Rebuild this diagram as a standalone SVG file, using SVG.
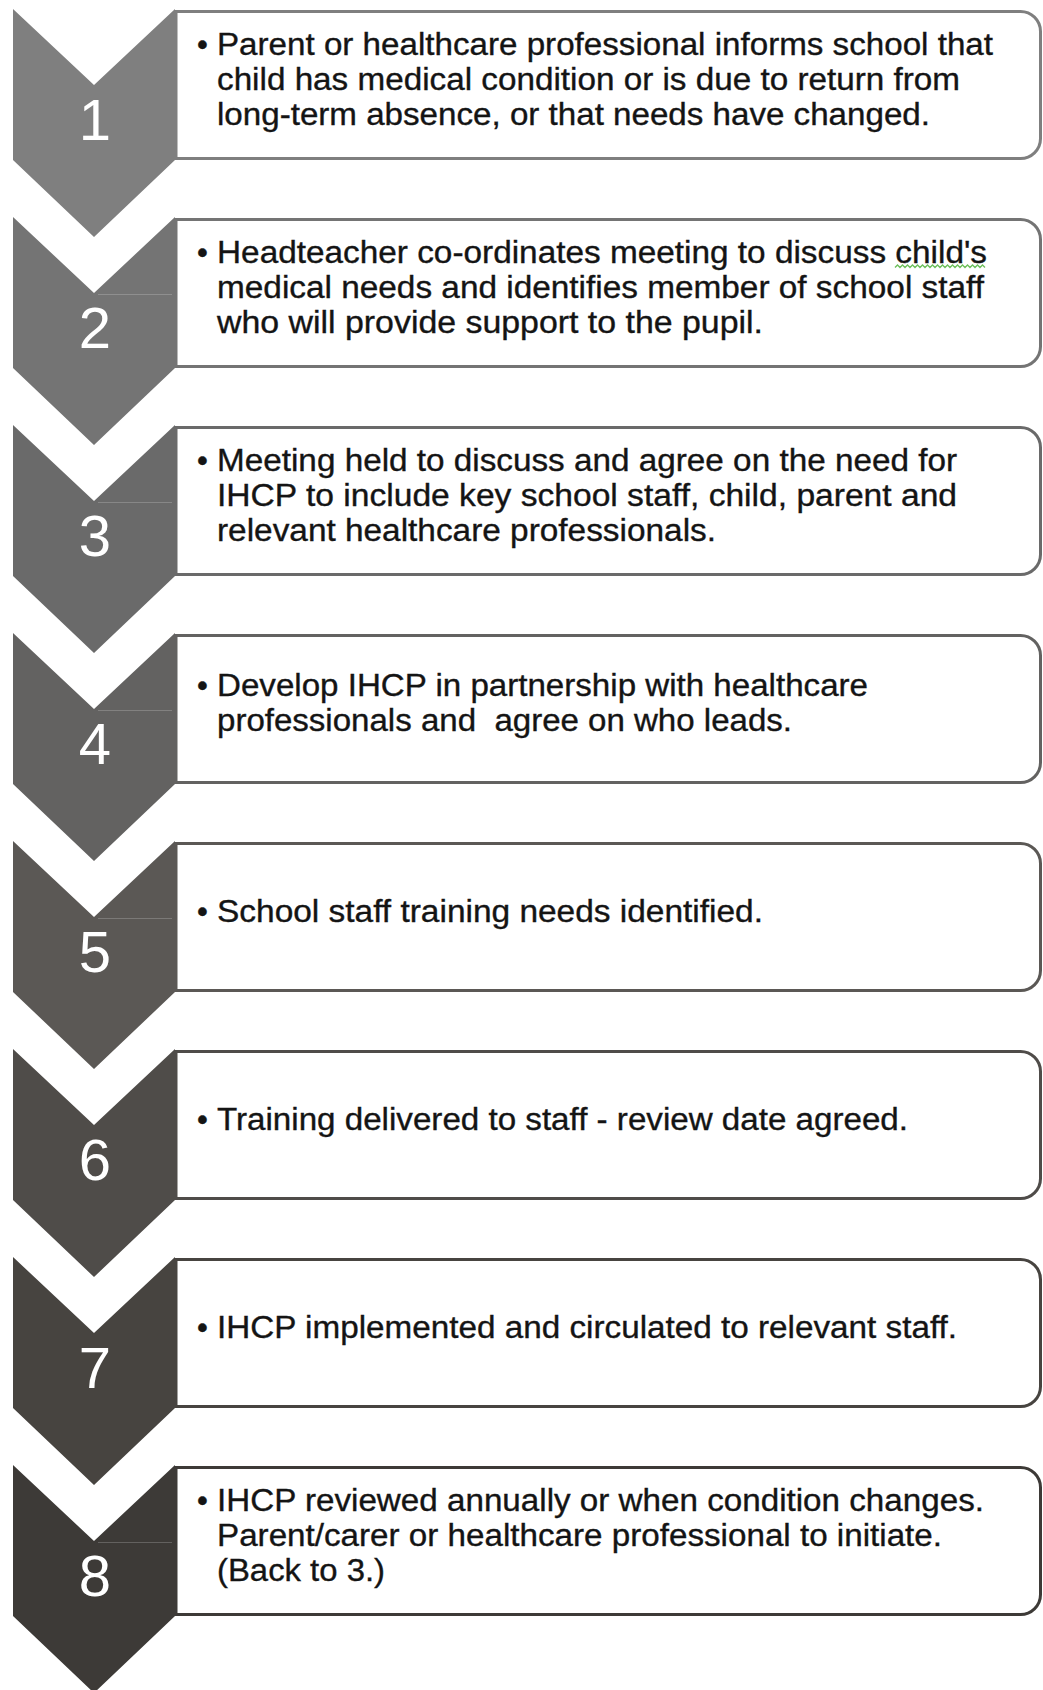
<svg xmlns="http://www.w3.org/2000/svg" xmlns:xlink="http://www.w3.org/1999/xlink" width="1043" height="1690" viewBox="0 0 1043 1690">
<style>
.txt{font-family:"Liberation Sans",Arial,Helvetica,sans-serif;font-size:31px;fill:#141414;stroke:#141414;stroke-width:0.35}
.num{font-family:"Liberation Sans",Arial,Helvetica,sans-serif;font-size:58px;fill:#ffffff;text-anchor:middle}
.box{fill:#ffffff;stroke-width:3}
.notch{stroke:#ffffff;stroke-opacity:0.2;stroke-width:1.2}
</style>
<defs>
<path id="chev" d="M13,0 L94,76 L175,0 L175,151 L94,228 L13,151 Z"/>
<path id="card" d="M176,2.5 H1020 A20,20 0 0 1 1040.5,22.5 V129.5 A20,20 0 0 1 1020,149.5 H176 Z"/>
</defs>
<rect width="1043" height="1690" fill="#ffffff"/>
<g id="connectors"></g>

<g id="step1" transform="translate(0,9)">
<use xlink:href="#card" class="box" stroke="#7f7f7f"/>
<use xlink:href="#chev" fill="#7f7f7f"/>
<text class="num" x="95" y="131">1</text>
<text class="txt" x="197" y="46">•</text>
<text class="txt" x="217" y="46" textLength="776" lengthAdjust="spacingAndGlyphs">Parent or healthcare professional informs school that</text>
<text class="txt" x="217" y="81" textLength="743" lengthAdjust="spacingAndGlyphs">child has medical condition or is due to return from</text>
<text class="txt" x="217" y="116" textLength="713" lengthAdjust="spacingAndGlyphs">long-term absence, or that needs have changed.</text>
</g>

<g id="step2" transform="translate(0,217)">
<use xlink:href="#card" class="box" stroke="#747474"/>
<use xlink:href="#chev" fill="#747474"/>
<line class="notch" x1="98" y1="77.5" x2="172" y2="77.5"/>
<text class="num" x="95" y="131">2</text>
<text class="txt" x="197" y="46">•</text>
<text class="txt" x="217" y="46" textLength="770" lengthAdjust="spacingAndGlyphs">Headteacher co-ordinates meeting to discuss child's</text>
<path d="M895,50.5 l2.5,-2.5 l2.5,2.5 l2.5,-2.5 l2.5,2.5 l2.5,-2.5 l2.5,2.5 l2.5,-2.5 l2.5,2.5 l2.5,-2.5 l2.5,2.5 l2.5,-2.5 l2.5,2.5 l2.5,-2.5 l2.5,2.5 l2.5,-2.5 l2.5,2.5 l2.5,-2.5 l2.5,2.5 l2.5,-2.5 l2.5,2.5 l2.5,-2.5 l2.5,2.5 l2.5,-2.5 l2.5,2.5 l2.5,-2.5 l2.5,2.5 l2.5,-2.5 l2.5,2.5 l2.5,-2.5 l2.5,2.5 l2.5,-2.5 l2.5,2.5 l2.5,-2.5 l2.5,2.5 l2.5,-2.5 l2.5,2.5" fill="none" stroke="#6cbf5a" stroke-width="1.3"/>
<text class="txt" x="217" y="81" textLength="767" lengthAdjust="spacingAndGlyphs">medical needs and identifies member of school staff</text>
<text class="txt" x="217" y="116" textLength="546" lengthAdjust="spacingAndGlyphs">who will provide support to the pupil.</text>
</g>

<g id="step3" transform="translate(0,425)">
<use xlink:href="#card" class="box" stroke="#6a6a6a"/>
<use xlink:href="#chev" fill="#6a6a6a"/>
<line class="notch" x1="98" y1="77.5" x2="172" y2="77.5"/>
<text class="num" x="95" y="131">3</text>
<text class="txt" x="197" y="46">•</text>
<text class="txt" x="217" y="46" textLength="740" lengthAdjust="spacingAndGlyphs">Meeting held to discuss and agree on the need for</text>
<text class="txt" x="217" y="81" textLength="740" lengthAdjust="spacingAndGlyphs">IHCP to include key school staff, child, parent and</text>
<text class="txt" x="217" y="116" textLength="499" lengthAdjust="spacingAndGlyphs">relevant healthcare professionals.</text>
</g>

<g id="step4" transform="translate(0,633)">
<use xlink:href="#card" class="box" stroke="#636261"/>
<use xlink:href="#chev" fill="#636261"/>
<line class="notch" x1="98" y1="77.5" x2="172" y2="77.5"/>
<text class="num" x="95" y="131">4</text>
<text class="txt" x="197" y="63">•</text>
<text class="txt" x="217" y="63" textLength="651" lengthAdjust="spacingAndGlyphs">Develop IHCP in partnership with healthcare</text>
<text class="txt" x="217" y="98" textLength="575" lengthAdjust="spacingAndGlyphs" xml:space="preserve">professionals and  agree on who leads.</text>
</g>

<g id="step5" transform="translate(0,841)">
<use xlink:href="#card" class="box" stroke="#5b5855"/>
<use xlink:href="#chev" fill="#5b5855"/>
<line class="notch" x1="98" y1="77.5" x2="172" y2="77.5"/>
<text class="num" x="95" y="131">5</text>
<text class="txt" x="197" y="81">•</text>
<text class="txt" x="217" y="81" textLength="546" lengthAdjust="spacingAndGlyphs">School staff training needs identified.</text>
</g>

<g id="step6" transform="translate(0,1049)">
<use xlink:href="#card" class="box" stroke="#4f4c49"/>
<use xlink:href="#chev" fill="#4f4c49"/>
<text class="num" x="95" y="131">6</text>
<text class="txt" x="197" y="81">•</text>
<text class="txt" x="217" y="81" textLength="691" lengthAdjust="spacingAndGlyphs">Training delivered to staff - review date agreed.</text>
</g>

<g id="step7" transform="translate(0,1257)">
<use xlink:href="#card" class="box" stroke="#474440"/>
<use xlink:href="#chev" fill="#474440"/>
<text class="num" x="95" y="131">7</text>
<text class="txt" x="197" y="81">•</text>
<text class="txt" x="217" y="81" textLength="740" lengthAdjust="spacingAndGlyphs">IHCP implemented and circulated to relevant staff.</text>
</g>

<g id="step8" transform="translate(0,1465)">
<use xlink:href="#card" class="box" stroke="#3d3a37"/>
<use xlink:href="#chev" fill="#3d3a37"/>
<line class="notch" x1="98" y1="77.5" x2="172" y2="77.5"/>
<text class="num" x="95" y="131">8</text>
<text class="txt" x="197" y="46">•</text>
<text class="txt" x="217" y="46" textLength="767" lengthAdjust="spacingAndGlyphs">IHCP reviewed annually or when condition changes.</text>
<text class="txt" x="217" y="81" textLength="725" lengthAdjust="spacingAndGlyphs">Parent/carer or healthcare professional to initiate.</text>
<text class="txt" x="217" y="116" textLength="168" lengthAdjust="spacingAndGlyphs">(Back to 3.)</text>
</g>
</svg>
